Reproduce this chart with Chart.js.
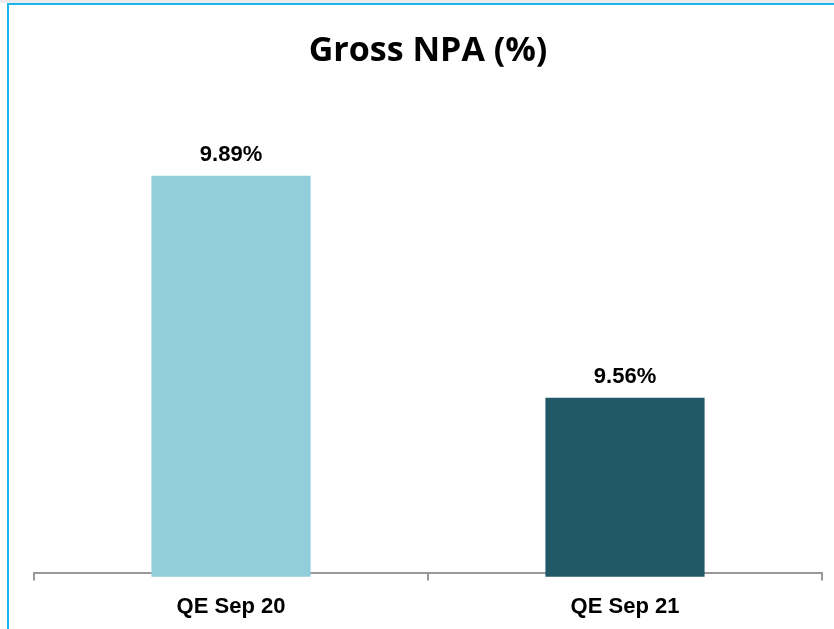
<!DOCTYPE html>
<html>
<head>
<meta charset="utf-8">
<script src="https://cdn.jsdelivr.net/npm/chart.js@4.4.1/dist/chart.umd.min.js"></script>
<style>
    html, body { margin: 0; padding: 0; background: #ffffff; }
    #wrap { position: relative; width: 834px; height: 629px; overflow: hidden; }
    #topStrip { position: absolute; left: 0; top: 0; width: 834px; height: 3px; background: #ececec; }
    #frame { position: absolute; left: 7px; top: 3px; width: 840px; height: 640px;
             border-left: 2px solid #1cb5ea; border-top: 2px solid #1cb5ea; }
    canvas { position: absolute; left: 0; top: 0; }
</style>
</head>
<body>
<div id="wrap">
    <div id="topStrip"></div>
    <div id="frame"></div>
    <canvas id="npaChart" width="834" height="629"></canvas>
</div>
<script>
const categories = ['QE Sep 20', 'QE Sep 21'];
const grossNpa = [9.89, 9.56];
const barColors = ['#92cddc', '#215968'];

const yMin = 9.3;
const yMax = 10.0;

const labelFont = {
    size: 22,
    weight: 'bold',
    family: '"Liberation Sans", Arial, sans-serif'
};

// draws the % value above each bar
const valueLabels = {
    id: 'valueLabels',
    afterDatasetsDraw(chart) {
        const ctx = chart.ctx;
        const meta = chart.getDatasetMeta(0);
        ctx.save();
        ctx.font = 'bold 22px "Liberation Sans", Arial, sans-serif';
        ctx.fillStyle = '#000000';
        ctx.textAlign = 'center';
        ctx.textBaseline = 'middle';
        meta.data.forEach((bar, i) => {
            ctx.fillText(grossNpa[i].toFixed(2) + '%', bar.x, bar.y - 21);
        });
        ctx.restore();
    }
};

const npaCtx = document.getElementById('npaChart').getContext('2d');
const npaChart = new Chart(npaCtx, {
    type: 'bar',
    data: {
        labels: categories,
        datasets: [{
            label: 'Gross NPA (%)',
            data: grossNpa,
            backgroundColor: barColors,
            borderWidth: 0,
            base: yMin - 0.006,
            clip: 8,
            barPercentage: 0.404,
            categoryPercentage: 1.0
        }]
    },
    options: {
        responsive: false,
        animation: false,
        layout: {
            padding: { left: 34, right: 12, top: 0, bottom: -4 }
        },
        scales: {
            y: {
                display: false,
                min: yMin,
                max: yMax
            },
            x: {
                z: 1,
                offset: true,
                grid: {
                    offset: true,
                    drawOnChartArea: false,
                    drawTicks: true,
                    tickLength: 8,
                    color: '#999999',
                    lineWidth: 2
                },
                border: {
                    display: true,
                    color: '#999999',
                    width: 2
                },
                ticks: {
                    color: '#000000',
                    padding: 13,
                    font: labelFont
                }
            }
        },
        plugins: {
            legend: { display: false },
            tooltip: { enabled: false },
            title: {
                display: true,
                text: 'Gross NPA (%)',
                color: '#000000',
                font: {
                    size: 34,
                    weight: 'bold',
                    family: '"Open Sans", sans-serif'
                },
                padding: { top: 31, bottom: 30 }
            }
        }
    },
    plugins: [valueLabels]
});
</script>
</body>
</html>
